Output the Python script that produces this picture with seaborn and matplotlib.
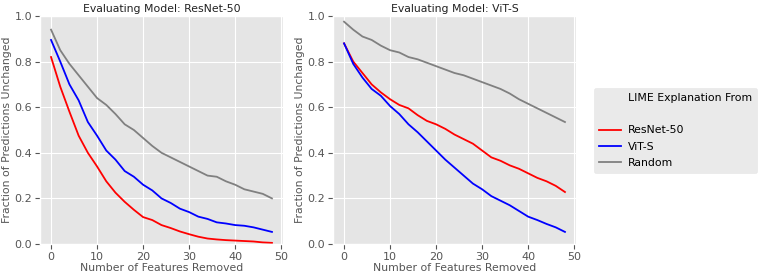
import numpy as np
import pandas as pd
import matplotlib
matplotlib.use("Agg")
import matplotlib.pyplot as plt
import seaborn as sns
from matplotlib.lines import Line2D

features_removed = list(range(0, 50, 2))

# Evaluating model: ResNet-50
resnet_eval_resnet = [0.82, 0.69, 0.58, 0.475, 0.40, 0.34, 0.275, 0.225, 0.185, 0.15, 0.118, 0.105, 0.083,
                      0.07, 0.055, 0.043, 0.032, 0.024, 0.02, 0.017, 0.015, 0.013, 0.011, 0.007, 0.005]
resnet_eval_vit = [0.895, 0.80, 0.70, 0.63, 0.535, 0.475, 0.41, 0.37, 0.32, 0.295, 0.26, 0.235, 0.20,
                   0.18, 0.155, 0.14, 0.12, 0.11, 0.095, 0.09, 0.083, 0.08, 0.073, 0.063, 0.053]
resnet_eval_random = [0.94, 0.85, 0.79, 0.74, 0.69, 0.64, 0.61, 0.57, 0.525, 0.50, 0.465, 0.43, 0.40,
                      0.38, 0.36, 0.34, 0.32, 0.30, 0.295, 0.275, 0.26, 0.24, 0.23, 0.22, 0.20]

# Evaluating model: ViT-S
vit_eval_resnet = [0.88, 0.80, 0.75, 0.70, 0.665, 0.635, 0.61, 0.595, 0.565, 0.54, 0.525, 0.505, 0.48,
                   0.46, 0.44, 0.41, 0.38, 0.365, 0.345, 0.33, 0.31, 0.29, 0.275, 0.255, 0.228]
vit_eval_vit = [0.88, 0.79, 0.73, 0.68, 0.65, 0.605, 0.57, 0.525, 0.49, 0.45, 0.41, 0.37, 0.335,
                0.30, 0.265, 0.24, 0.21, 0.19, 0.17, 0.145, 0.12, 0.105, 0.088, 0.073, 0.053]
vit_eval_random = [0.975, 0.94, 0.91, 0.895, 0.87, 0.85, 0.84, 0.82, 0.81, 0.795, 0.78, 0.765, 0.75,
                   0.74, 0.725, 0.71, 0.695, 0.68, 0.66, 0.635, 0.615, 0.595, 0.575, 0.555, 0.535]

sources = ["ResNet-50", "ViT-S", "Random"]
colors = ["red", "blue", "gray"]
models = ["ResNet-50", "ViT-S"]

series = {
    "ResNet-50": [resnet_eval_resnet, resnet_eval_vit, resnet_eval_random],
    "ViT-S": [vit_eval_resnet, vit_eval_vit, vit_eval_random],
}

rows = []
for m in models:
    for src, vals in zip(sources, series[m]):
        for x, v in zip(features_removed, vals):
            rows.append({"model": m, "source": src, "x": x, "y": v})
df = pd.DataFrame(rows)

plt.style.use("ggplot")
plt.rcParams["font.family"] = ["DejaVu Sans"]

fig = plt.figure(figsize=(7.61, 2.79), dpi=100)
ax1 = fig.add_axes([40 / 761, 1 - 244 / 279, 243 / 761, 228 / 279])
ax2 = fig.add_axes([333 / 761, 1 - 244 / 279, 243 / 761, 228 / 279])

for ax, m in zip([ax1, ax2], models):
    sns.lineplot(data=df[df.model == m], x="x", y="y", hue="source", hue_order=sources,
                 palette=colors, ax=ax, linewidth=1.3, legend=False)
    ax.set_title(f"Evaluating Model: {m}", fontsize=7.8, pad=3, color="#222222")
    ax.set_xlabel("Number of Features Removed", fontsize=7.8, color="#555555", labelpad=1)
    ax.set_ylabel("Fraction of Predictions Unchanged", fontsize=7.8, color="#555555", labelpad=2)
    ax.set_ylim(0, 1.0)
    ax.set_xticks([0, 10, 20, 30, 40, 50])
    ax.set_yticks([0.0, 0.2, 0.4, 0.6, 0.8, 1.0])
    ax.tick_params(labelsize=8, colors="#555555", length=3.5, pad=2)

handles = [Line2D([], [], color="none"), Line2D([], [], color="none")]
labels = ["LIME Explanation From", ""]
for s, c in zip(sources, colors):
    handles.append(Line2D([], [], color=c, linewidth=1.3))
    labels.append(s)
fig.legend(handles, labels, loc="upper left", bbox_to_anchor=(594 / 761, 1 - 88 / 279),
           borderaxespad=0, fontsize=7.8, frameon=True, facecolor="#E5E5E5", edgecolor="#E5E5E5",
           handlelength=2.0, handletextpad=0.7, labelspacing=0.58, borderpad=0.45)

fig.savefig("out.png", dpi=100)
